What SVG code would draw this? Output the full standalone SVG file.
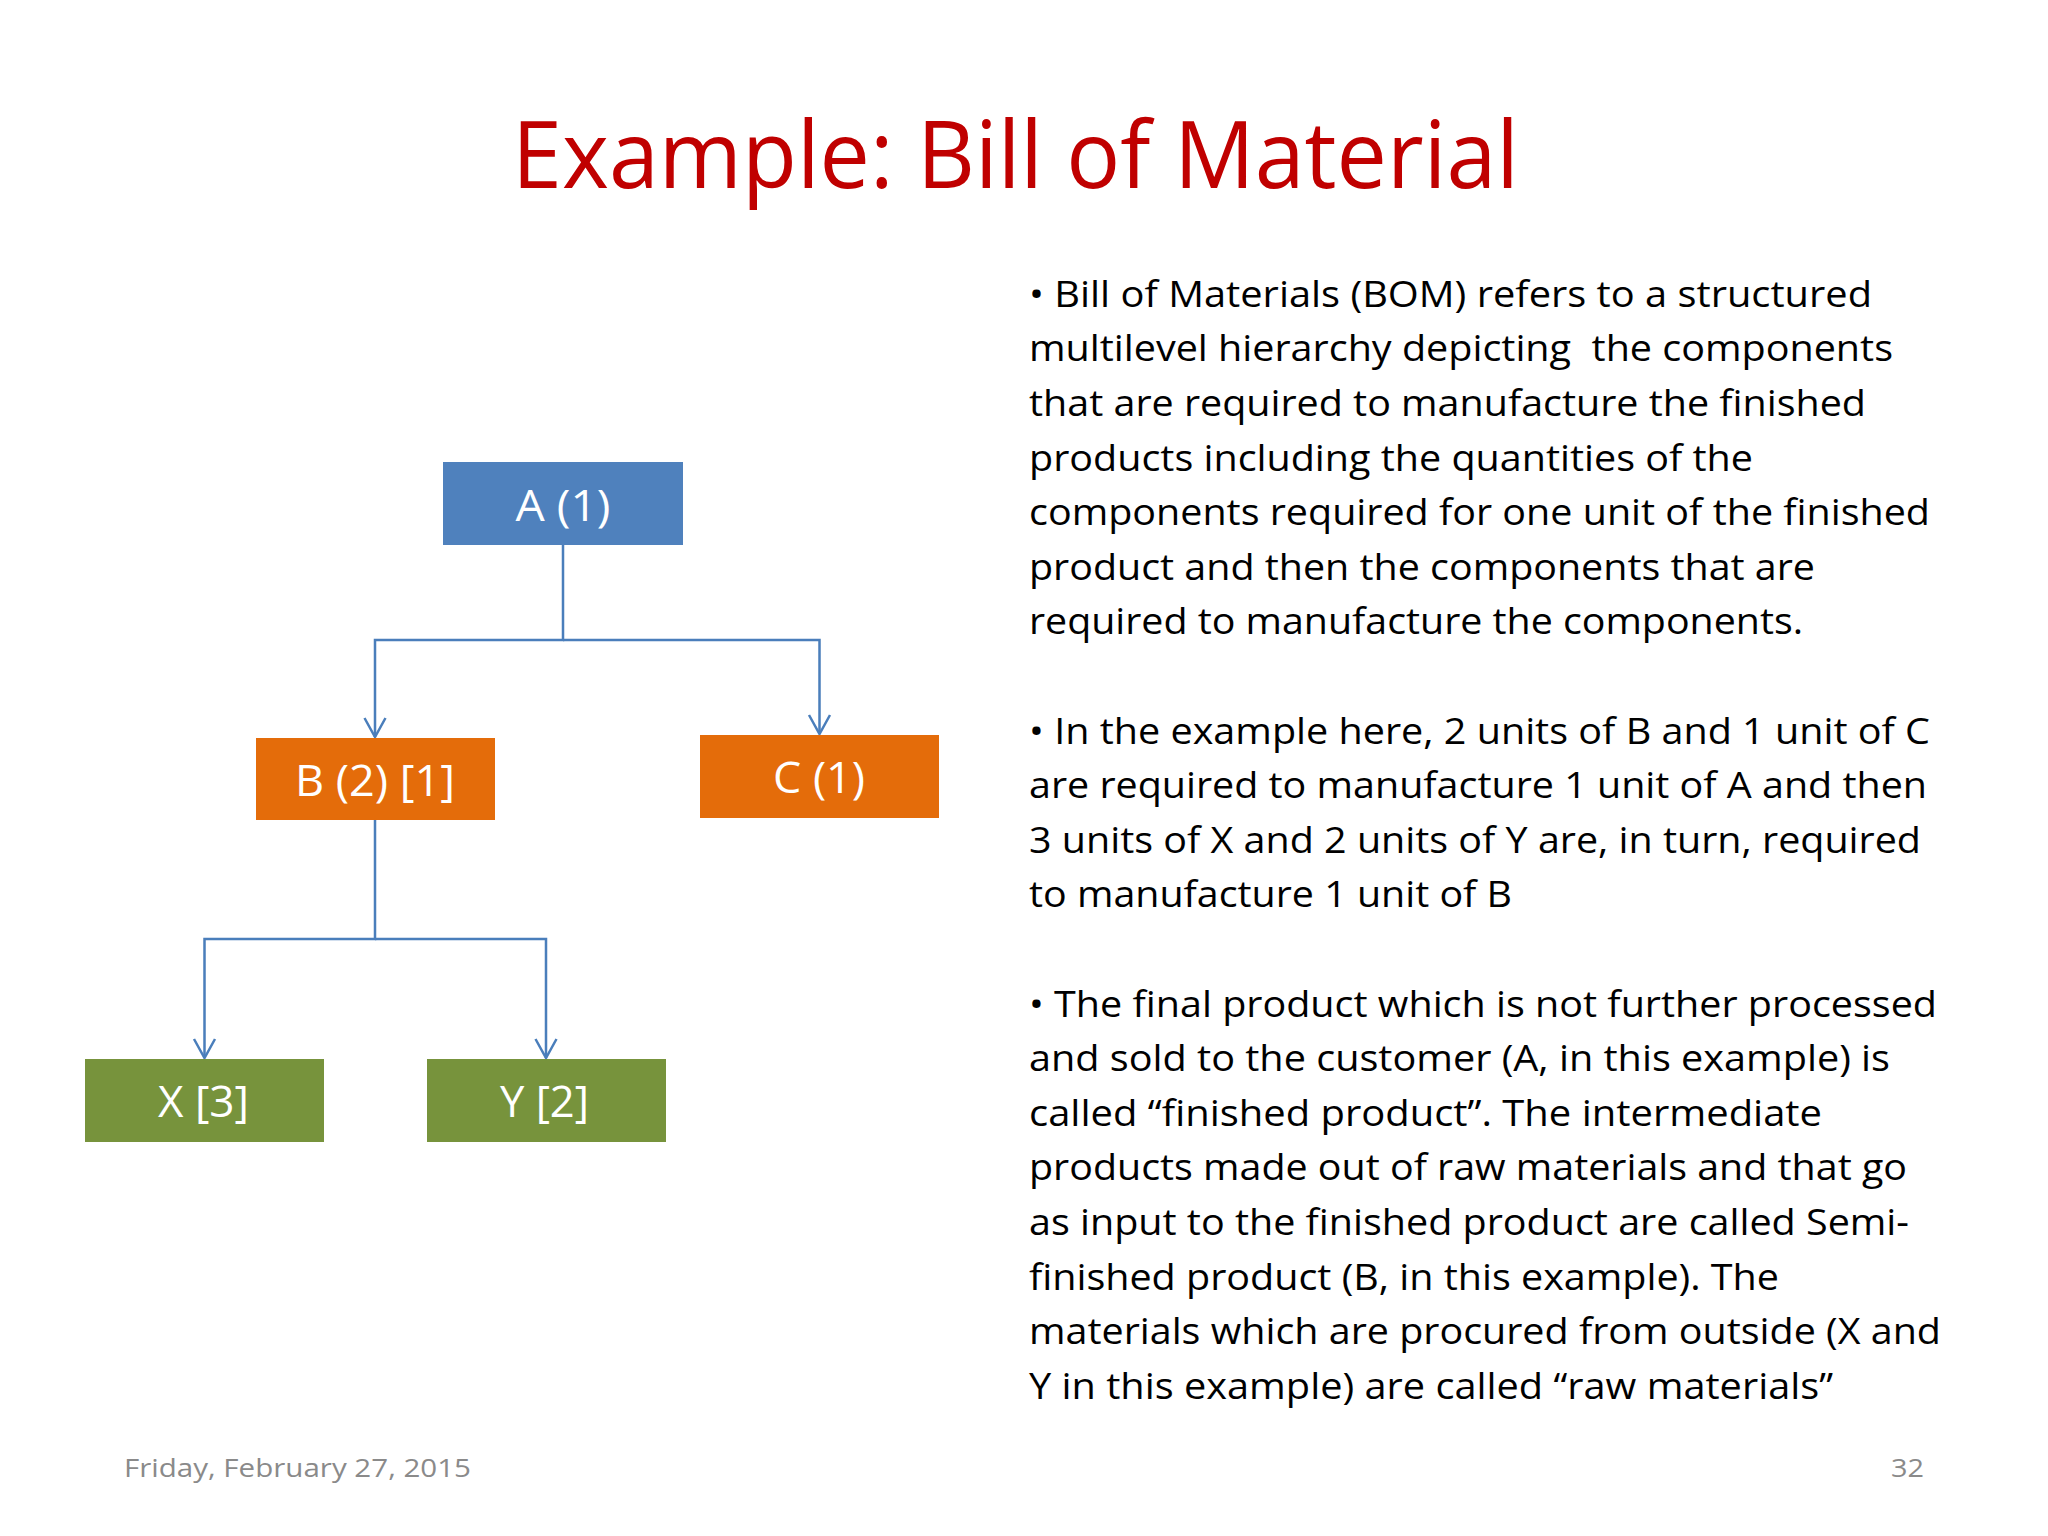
<svg xmlns="http://www.w3.org/2000/svg" width="2048" height="1536" viewBox="0 0 2048 1536">
<defs>
<style>
.title{font-family:"Open Sans","Liberation Sans",sans-serif;font-size:94px;fill:#c00000}
.body{font-family:"Open Sans","Liberation Sans",sans-serif;font-size:36px;fill:#000}
.lbl{font-family:"Open Sans","Liberation Sans",sans-serif;font-size:43px;fill:#fff}
.foot{font-family:"Open Sans","Liberation Sans",sans-serif;font-size:26px;fill:#8a8a8a}
.blue{fill:#4f81bd}
.orange{fill:#e46c0a}
.green{fill:#77933c}
.conn{fill:none;stroke:#4a7ebb;stroke-width:2.5;marker-end:url(#arr)}
</style>
<marker id="arr" markerUnits="userSpaceOnUse" viewBox="-24 -13 26 26" markerWidth="26" markerHeight="26" refX="0" refY="0" orient="auto">
<path d="M-19,-10.5 L0,0 L-19,10.5" fill="none" stroke="#4a7ebb" stroke-width="2.5"/>
</marker>
</defs>
<rect x="0" y="0" width="2048" height="1536" fill="#ffffff"/>

<text class="title" x="512" y="188" textLength="1007" lengthAdjust="spacingAndGlyphs">Example: Bill of Material</text>

<g id="connectors">
<path class="conn" d="M563,545 V640 H375 V737"/>
<path class="conn" d="M563,640 H819.5 V734"/>
<path class="conn" d="M375,820 V939 H204.5 V1058"/>
<path class="conn" d="M375,939 H546 V1058"/>
</g>

<g id="node-A">
<rect class="blue" x="443" y="462" width="240" height="83"/>
<text class="lbl" x="515.5" y="520.5" textLength="95" lengthAdjust="spacingAndGlyphs">A (1)</text>
</g>
<g id="node-B">
<rect class="orange" x="256" y="738" width="239" height="82"/>
<text class="lbl" x="295" y="796" textLength="160" lengthAdjust="spacingAndGlyphs">B (2) [1]</text>
</g>
<g id="node-C">
<rect class="orange" x="700" y="735" width="239" height="83"/>
<text class="lbl" x="773" y="792.5" textLength="92" lengthAdjust="spacingAndGlyphs">C (1)</text>
</g>
<g id="node-X">
<rect class="green" x="85" y="1059" width="239" height="83"/>
<text class="lbl" x="158" y="1116.5" textLength="91" lengthAdjust="spacingAndGlyphs">X [3]</text>
</g>
<g id="node-Y">
<rect class="green" x="427" y="1059" width="239" height="83"/>
<text class="lbl" x="500" y="1116.5" textLength="89" lengthAdjust="spacingAndGlyphs">Y [2]</text>
</g>

<g id="description" class="body">
<text x="1029" y="306.7" textLength="843" lengthAdjust="spacingAndGlyphs">• Bill of Materials (BOM) refers to a structured</text>
<text x="1029" y="361.3" textLength="864" lengthAdjust="spacingAndGlyphs">multilevel hierarchy depicting&#160; the components</text>
<text x="1029" y="416" textLength="837" lengthAdjust="spacingAndGlyphs">that are required to manufacture the finished</text>
<text x="1029" y="470.6" textLength="724" lengthAdjust="spacingAndGlyphs">products including the quantities of the</text>
<text x="1029" y="525.2" textLength="901" lengthAdjust="spacingAndGlyphs">components required for one unit of the finished</text>
<text x="1029" y="579.8" textLength="786" lengthAdjust="spacingAndGlyphs">product and then the components that are</text>
<text x="1029" y="634.4" textLength="774" lengthAdjust="spacingAndGlyphs">required to manufacture the components.</text>

<text x="1029" y="743.6" textLength="901" lengthAdjust="spacingAndGlyphs">• In the example here, 2 units of B and 1 unit of C</text>
<text x="1029" y="798.2" textLength="898" lengthAdjust="spacingAndGlyphs">are required to manufacture 1 unit of A and then</text>
<text x="1029" y="852.8" textLength="892" lengthAdjust="spacingAndGlyphs">3 units of X and 2 units of Y are, in turn, required</text>
<text x="1029" y="907.4" textLength="483" lengthAdjust="spacingAndGlyphs">to manufacture 1 unit of B</text>

<text x="1029" y="1016.6" textLength="908" lengthAdjust="spacingAndGlyphs">• The final product which is not further processed</text>
<text x="1029" y="1071.2" textLength="861" lengthAdjust="spacingAndGlyphs">and sold to the customer (A, in this example) is</text>
<text x="1029" y="1125.8" textLength="793" lengthAdjust="spacingAndGlyphs">called “finished product”. The intermediate</text>
<text x="1029" y="1180.4" textLength="878" lengthAdjust="spacingAndGlyphs">products made out of raw materials and that go</text>
<text x="1029" y="1235" textLength="880" lengthAdjust="spacingAndGlyphs">as input to the finished product are called Semi-</text>
<text x="1029" y="1289.6" textLength="750" lengthAdjust="spacingAndGlyphs">finished product (B, in this example). The</text>
<text x="1029" y="1344.2" textLength="912" lengthAdjust="spacingAndGlyphs">materials which are procured from outside (X and</text>
<text x="1029" y="1398.8" textLength="804" lengthAdjust="spacingAndGlyphs">Y in this example) are called “raw materials”</text>
</g>

<g id="footer" class="foot">
<text x="124" y="1477" textLength="347" lengthAdjust="spacingAndGlyphs">Friday, February 27, 2015</text>
<text x="1891" y="1477" textLength="33" lengthAdjust="spacingAndGlyphs">32</text>
</g>
</svg>
